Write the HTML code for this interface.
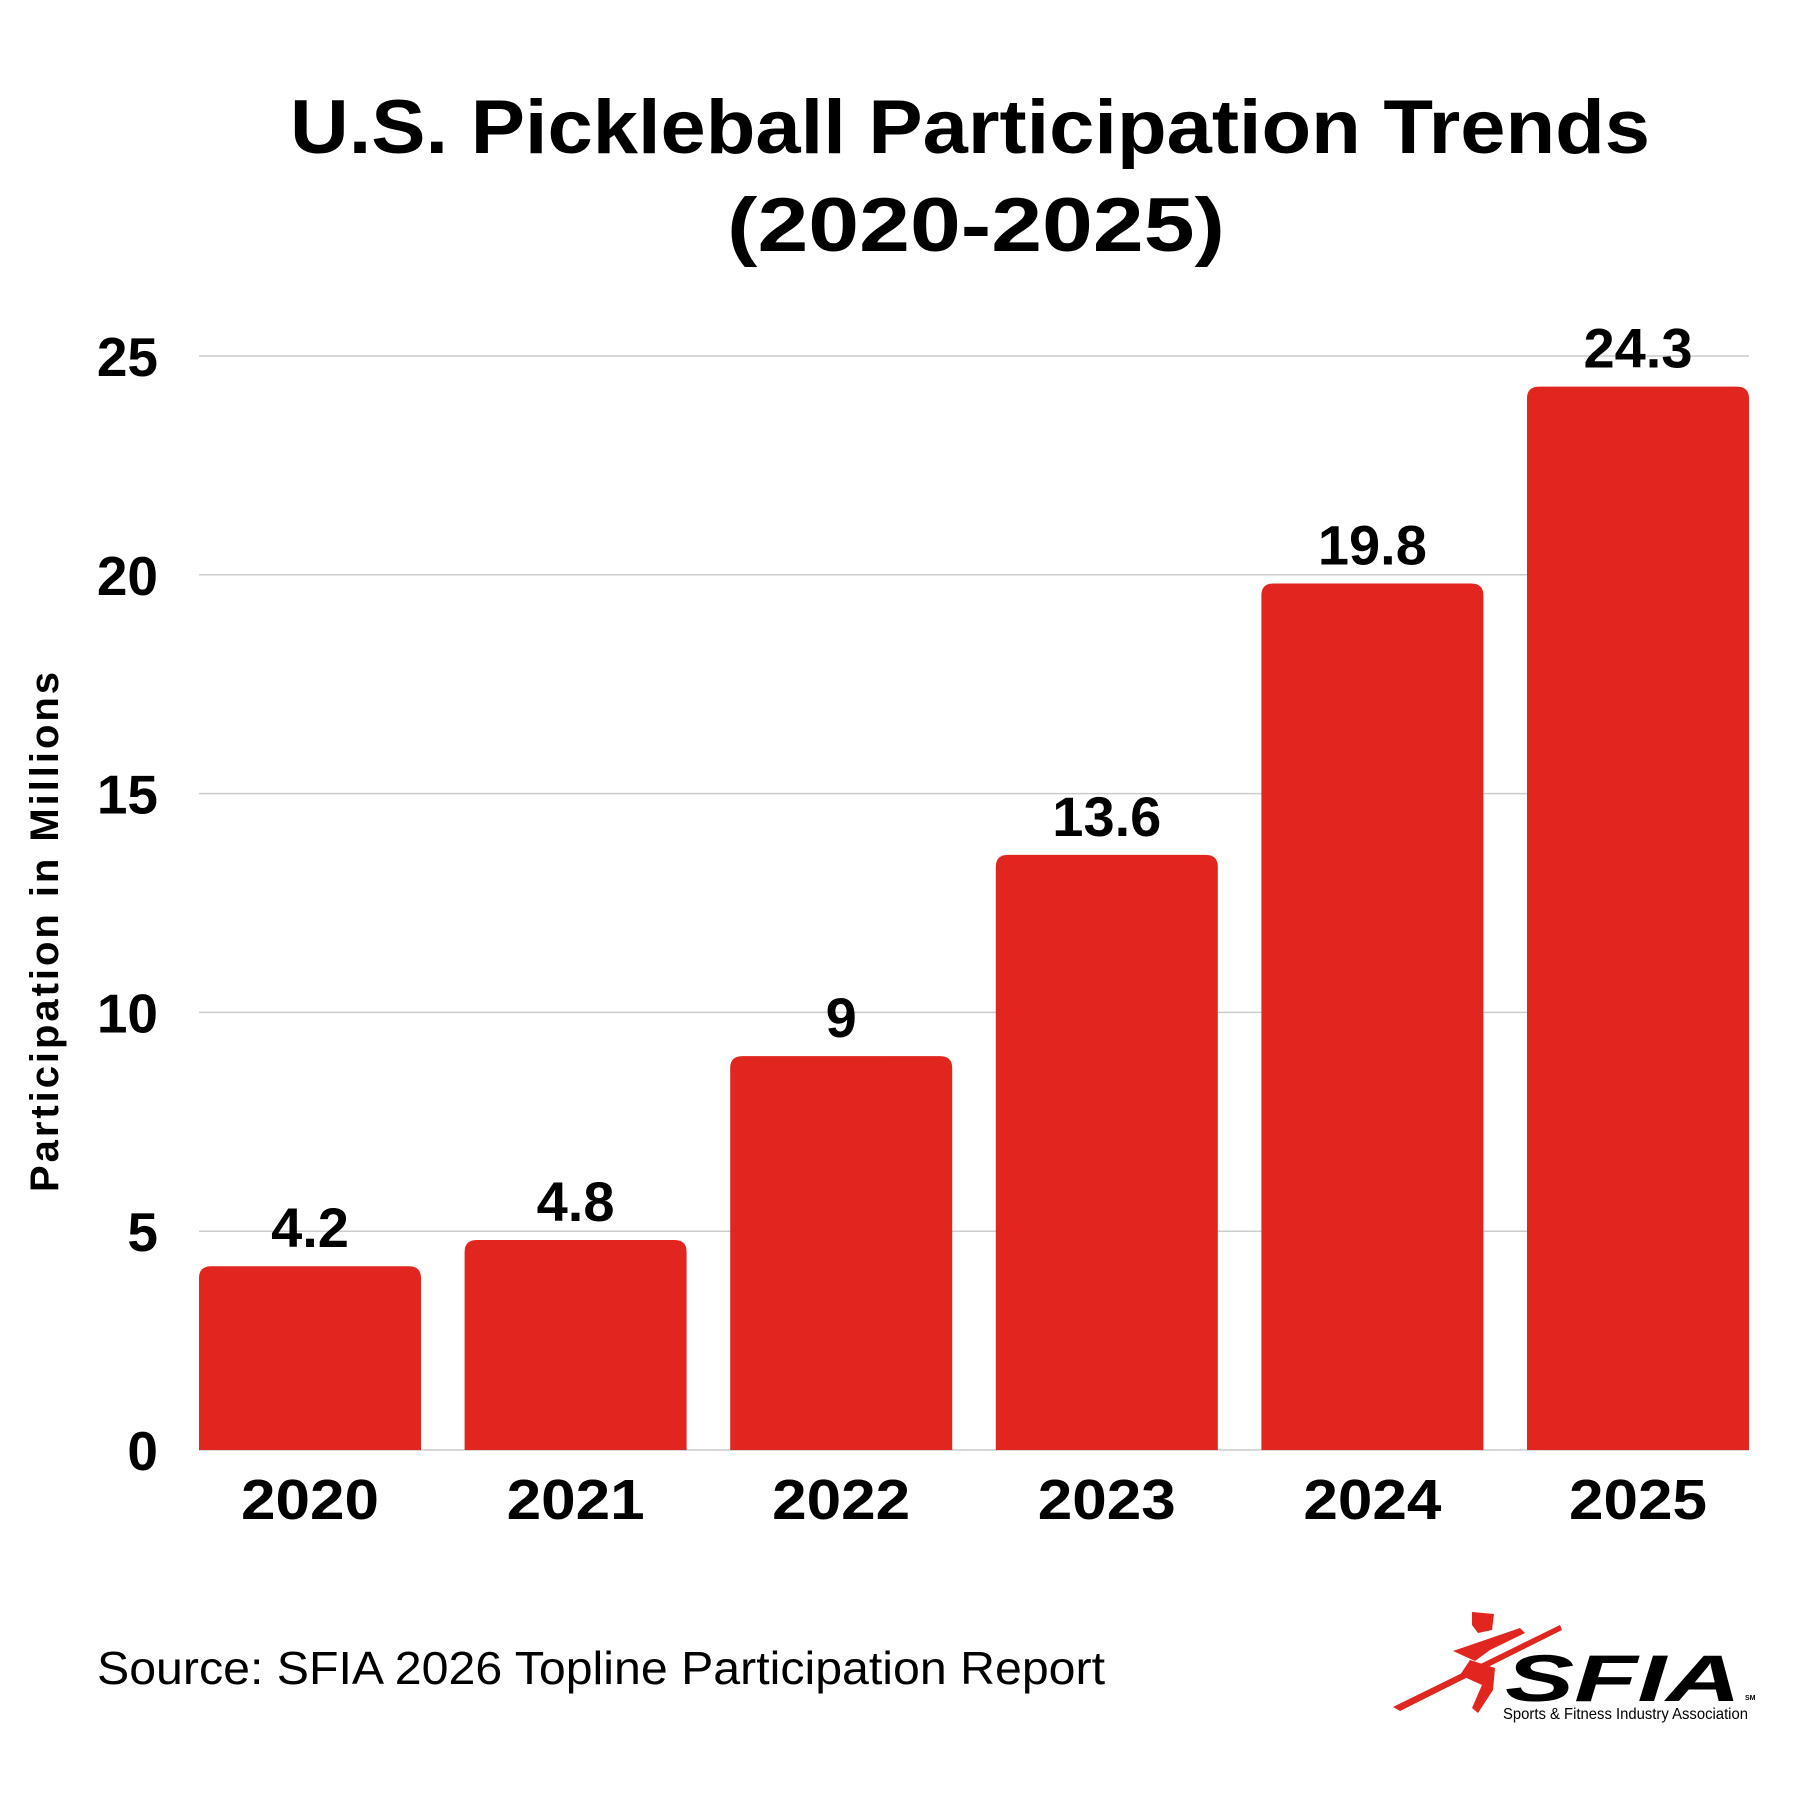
<!DOCTYPE html>
<html><head><meta charset="utf-8"><style>
html,body{margin:0;padding:0;background:#fff;width:1800px;height:1800px;overflow:hidden}
svg{display:block;font-family:"Liberation Sans",sans-serif}
</style></head><body>
<svg id="chart" width="1800" height="1800" viewBox="0 0 1800 1800">
<text x="970" y="153" text-anchor="middle" font-size="76" font-weight="bold" textLength="1360" lengthAdjust="spacingAndGlyphs">U.S. Pickleball Participation Trends</text>
<text x="976" y="251" text-anchor="middle" font-size="76" font-weight="bold" textLength="498" lengthAdjust="spacingAndGlyphs">(2020-2025)</text>
<g id="grid"></g><g id="bars"></g><g id="labels"></g>
<text transform="translate(58,932) rotate(-90)" text-anchor="middle" font-size="40" font-weight="bold" textLength="520">Participation in Millions</text>
<text x="97" y="1684" font-size="46" textLength="1008" lengthAdjust="spacingAndGlyphs">Source: SFIA 2026 Topline Participation Report</text>
<g>
<path d="M1393,1707 L1560,1625 L1562,1630 L1400,1711 Z" fill="#e0261e"/>
<path d="M1453,1651 L1520,1628 L1525,1633 L1490,1650 L1475,1661 Z" fill="#e0261e"/>
<path d="M1472,1612 L1494,1614 L1492,1630 L1478,1633 L1472,1625 Z" fill="#e0261e"/>
<path d="M1470,1660 L1495,1668 L1493,1690 L1478,1713 L1472,1708 L1482,1685 L1460,1675 Z" fill="#e0261e"/>
<text x="1505" y="1701" font-size="66" font-weight="bold" font-style="italic" fill="#000" textLength="236" lengthAdjust="spacingAndGlyphs">SFIA</text>
<text x="1745" y="1700" font-size="7" font-weight="bold">SM</text>
<text x="1503" y="1719" font-size="16" textLength="245" lengthAdjust="spacingAndGlyphs">Sports &amp; Fitness Industry Association</text>
</g>
</svg>
<script>
const categories=["2020","2021","2022","2023","2024","2025"];
const values=[4.2,4.8,9,13.6,19.8,24.3];
const valueLabels=["4.2","4.8","9","13.6","19.8","24.3"];
const yTicks=[0,5,10,15,20,25];
const NS="http://www.w3.org/2000/svg";
const y0=1450,unit=43.76,x0=199,pitch=265.6,bw=222;
function yScale(v){return y0-v*unit;}
function xScale(i){return x0+i*pitch;}
const grid=document.getElementById('grid'),bars=document.getElementById('bars'),labels=document.getElementById('labels');
function mk(tag,attrs,parent){const e=document.createElementNS(NS,tag);for(const k in attrs)e.setAttribute(k,attrs[k]);parent.appendChild(e);return e;}
yTicks.forEach(t=>{
  const l=mk('line',{x1:x0,x2:1749,y1:yScale(t),y2:yScale(t),stroke:'#cccccc','stroke-width':1.5},grid);
  
  
  const tx=mk('text',{x:158,y:yScale(t)+20,'text-anchor':'end','font-size':55,'font-weight':'bold'},labels);
  tx.textContent=t;
  
  
});
values.forEach((v,i)=>{
  const x=xScale(i),top=yScale(v),r=12;
  const p=mk('path',{d:`M${x},${y0} L${x},${top+r} Q${x},${top} ${x+r},${top} L${x+bw-r},${top} Q${x+bw},${top} ${x+bw},${top+r} L${x+bw},${y0} Z`,fill:'#e0261e'},bars);
  
  
  const vl=mk('text',{x:x+bw/2,y:top-19,'text-anchor':'middle','font-size':56,'font-weight':'bold'},labels);
  vl.textContent=valueLabels[i];
  
  
  const cl=mk('text',{x:x+bw/2,y:1519,'text-anchor':'middle','font-size':57,'font-weight':'bold','textLength':138,'lengthAdjust':'spacingAndGlyphs'},labels);
  cl.textContent=categories[i];
  
  
});
</script>
</body></html>
